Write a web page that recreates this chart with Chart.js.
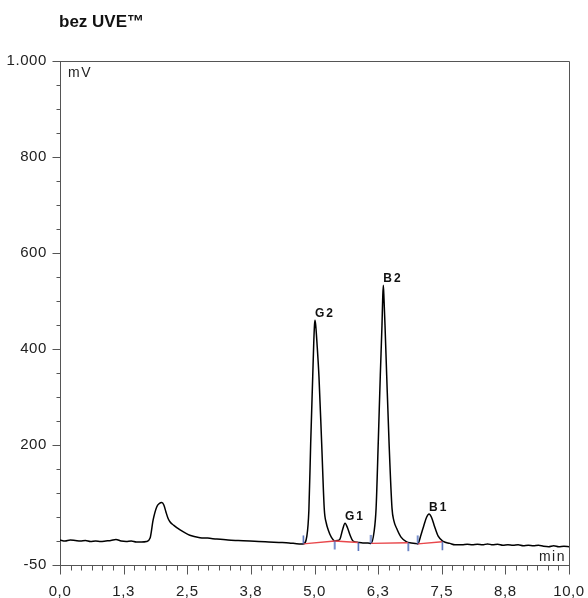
<!DOCTYPE html>
<html>
<head>
<meta charset="utf-8">
<script src="https://cdn.jsdelivr.net/npm/chart.js@4.4.1/dist/chart.umd.min.js"></script>
<style>
  html, body { margin: 0; padding: 0; background: #fff; }
  #chart { display: block; }
</style>
</head>
<body>
<canvas id="chart" width="588" height="598"></canvas>
<script>
(function () {
  'use strict';

  // ---- data ----
  var titleText = 'bez UVE\u2122';

  // detector trace: time (min) / signal (mV)
  var traceT = [0, 0.1, 0.2, 0.3, 0.4, 0.5, 0.6, 0.7, 0.8, 0.9, 1.0, 1.1, 1.2, 1.3, 1.4, 1.5, 1.6, 1.7,
    1.77, 1.83, 1.9, 1.95, 2.0, 2.04, 2.08, 2.12, 2.16, 2.23, 2.36, 2.55, 2.75, 2.9, 3.08, 3.3, 3.5, 3.73,
    3.9, 4.1, 4.3, 4.5, 4.7, 4.78,
    4.85, 4.89, 4.925, 4.965, 4.985, 5.0, 5.01, 5.025, 5.049, 5.088, 5.141, 5.193, 5.23, 5.27, 5.33, 5.4,
    5.45, 5.5, 5.55, 5.6, 5.65, 5.7, 5.756, 5.86, 5.95, 6.05, 6.11,
    6.17, 6.21, 6.253, 6.293, 6.326, 6.34, 6.352, 6.365, 6.385, 6.418, 6.464, 6.523, 6.56, 6.615, 6.7, 6.81,
    6.9, 6.98, 7.03,
    7.09, 7.15, 7.2, 7.25, 7.3, 7.35, 7.43, 7.53, 7.66, 7.76, 7.9, 8.0, 8.1, 8.2, 8.3, 8.4, 8.5, 8.6, 8.7,
    8.8, 8.9, 9.0, 9.1, 9.2, 9.3, 9.4, 9.5, 9.6, 9.7, 9.8, 9.9, 10.0];
  var traceV = [2, 0, 2, 1, 0, 1, -1, 0, -1, 0, 1, 3, 0, -1, 0, -2, -2, -1,
    6, 44, 71, 78, 80, 75, 61, 48, 40, 33, 23, 12, 7, 6, 4, 2, 1, 0,
    -1, -2, -3, -4, -6, -6,
    10, 65, 203, 342, 412, 450, 460, 448, 412, 342, 203, 65, 38, 23, 8, 0,
    1, 4, 23, 37, 27, 12, 0, -3, -4, -4, -5,
    19, 68, 207, 346, 450, 505, 533, 505, 450, 346, 207, 68, 42, 26, 8, -2,
    -4, -5, -6,
    12, 33, 49, 56, 49, 33, 10, -1, -5, -8, -8, -7, -8, -7, -8, -6, -8, -7, -9,
    -8, -9, -8, -10, -9, -10, -9, -11, -12, -10, -12, -11, -12];

  // integration baselines (red) and their start / end markers (blue)
  var blT = [4.78, 5.40, 5.86, 6.11, 6.84, 7.03, 7.51];
  var blV = [-6, 0, -3, -5, -3.5, -6, -1.5];
  var blGroup = [1, 1, 1, 2, 2, 3, 3];
  var blIsStart = [true, false, false, true, false, true, false];

  // peak names
  var peakNames = ['G2', 'G1', 'B2', 'B1'];
  var peakT = [5.01, 5.6, 6.352, 7.25];
  var peakV = [460, 37, 533, 56];

  // axes
  var xTickValues = [0, 1.25, 2.5, 3.75, 5, 6.25, 7.5, 8.75, 10];
  var xTickLabels = ['0,0', '1,3', '2,5', '3,8', '5,0', '6,3', '7,5', '8,8', '10,0'];
  var yTickValues = [-50, 200, 400, 600, 800, 1000];
  var yTickLabels = ['-50', '200', '400', '600', '800', '1.000'];
  var xMinorPerMajor = 6;
  var yMinorStep = 50;
  var xUnit = 'min';
  var yUnit = 'mV';

  var AXIS_COLOR = '#555';
  var TEXT_COLOR = '#222';
  var FONT_FAMILY = '"Liberation Sans", Arial, sans-serif';

  function zip(xs, ys) {
    return xs.map(function (x, i) { return { x: x, y: ys[i] }; });
  }

  // baseline line with gaps between groups
  var baselineData = [];
  blT.forEach(function (t, i) {
    if (i > 0 && blGroup[i] !== blGroup[i - 1]) baselineData.push({ x: t, y: null });
    baselineData.push({ x: t, y: blV[i] });
  });

  var startMarks = [], endMarks = [];
  blT.forEach(function (t, i) {
    (blIsStart[i] ? startMarks : endMarks).push({ x: t, y: blV[i] });
  });

  // small vertical marker images: one sits above the point, one below
  function markImage(up) {
    var c = document.createElement('canvas');
    c.width = 3; c.height = 19;
    var g = c.getContext('2d');
    g.strokeStyle = '#3f5fb5';
    g.lineWidth = 1.4;
    g.beginPath();
    g.moveTo(1.5, up ? 1 : 9.5);
    g.lineTo(1.5, up ? 9.5 : 18);
    g.stroke();
    return c;
  }

  // ---- frame, ticks and annotations ----
  var framePlugin = {
    id: 'frame',
    beforeDraw: function (chart) {
      var ctx = chart.ctx;
      ctx.save();
      ctx.letterSpacing = '0px';
      ctx.fillStyle = '#111';
      ctx.font = 'bold 17px ' + FONT_FAMILY;
      ctx.textAlign = 'left';
      ctx.textBaseline = 'alphabetic';
      ctx.fillText(titleText, 59, 27);
      ctx.restore();
      ctx.letterSpacing = '0.6px'; // slightly spaced tick labels
    },
    afterDraw: function (chart) {
      var ctx = chart.ctx;
      var a = chart.chartArea;
      var xs = chart.scales.x, ys = chart.scales.y;
      ctx.save();
      ctx.letterSpacing = '0px';

      // top and right border
      ctx.strokeStyle = AXIS_COLOR;
      ctx.lineWidth = 1;
      ctx.beginPath();
      ctx.moveTo(Math.round(a.left) + 0.5, Math.round(a.top) + 0.5);
      ctx.lineTo(Math.round(a.right) + 0.5, Math.round(a.top) + 0.5);
      ctx.lineTo(Math.round(a.right) + 0.5, Math.round(a.bottom) + 0.5);
      ctx.stroke();

      // x ticks (below the axis)
      var bottom = Math.round(a.bottom) + 0.5;
      ctx.beginPath();
      for (var i = 0; i < xTickValues.length; i++) {
        var px = Math.round(xs.getPixelForValue(xTickValues[i])) + 0.5;
        ctx.moveTo(px, bottom); ctx.lineTo(px, bottom + 9);
        if (i < xTickValues.length - 1) {
          var step = (xTickValues[i + 1] - xTickValues[i]) / xMinorPerMajor;
          for (var k = 1; k < xMinorPerMajor; k++) {
            var mx = Math.round(xs.getPixelForValue(xTickValues[i] + k * step)) + 0.5;
            ctx.moveTo(mx, bottom); ctx.lineTo(mx, bottom + 5);
          }
        }
      }
      // y ticks (left of the axis)
      var left = Math.round(a.left) + 0.5;
      for (var v = ys.min; v <= ys.max; v += yMinorStep) {
        var py = Math.round(ys.getPixelForValue(v)) + 0.5;
        var major = yTickValues.indexOf(v) >= 0;
        ctx.moveTo(left, py); ctx.lineTo(left - (major ? 8 : 4), py);
      }
      ctx.stroke();

      // unit labels
      ctx.fillStyle = TEXT_COLOR;
      ctx.font = '14px ' + FONT_FAMILY;
      ctx.letterSpacing = '1.5px';
      ctx.textBaseline = 'alphabetic';
      ctx.textAlign = 'left';
      ctx.fillText(yUnit, a.left + 8, a.top + 16);
      ctx.textAlign = 'right';
      ctx.fillText(xUnit, a.right - 3, a.bottom - 4);

      // peak names
      ctx.font = 'bold 12px ' + FONT_FAMILY;
      ctx.letterSpacing = '2px';
      ctx.textAlign = 'left';
      ctx.fillStyle = '#111';
      for (var p = 0; p < peakNames.length; p++) {
        ctx.fillText(peakNames[p], xs.getPixelForValue(peakT[p]), ys.getPixelForValue(peakV[p]) - 3);
      }
      ctx.restore();
    }
  };

  new Chart(document.getElementById('chart'), {
    type: 'line',
    data: {
      datasets: [
        {
          data: zip(traceT, traceV),
          borderColor: '#000',
          borderWidth: 1.5,
          pointRadius: 0,
          cubicInterpolationMode: 'monotone',
          order: 3
        },
        {
          data: baselineData,
          borderColor: '#e8474b',
          borderWidth: 1.4,
          pointRadius: 0,
          spanGaps: false,
          order: 2
        },
        {
          type: 'scatter',
          data: startMarks,
          pointStyle: markImage(true),
          order: 1
        },
        {
          type: 'scatter',
          data: endMarks,
          pointStyle: markImage(false),
          order: 1
        }
      ]
    },
    options: {
      responsive: false,
      animation: false,
      devicePixelRatio: 1,
      layout: { padding: { top: 61, right: 19, left: 0, bottom: 0 } },
      plugins: { legend: { display: false }, tooltip: { enabled: false }, title: { display: false } },
      scales: {
        x: {
          type: 'linear',
          min: 0,
          max: 10,
          afterBuildTicks: function (scale) {
            scale.ticks = xTickValues.map(function (v) { return { value: v }; });
          },
          afterFit: function (scale) {
            scale.height = 33;
            scale.paddingLeft = 0;
            scale.paddingRight = 0;
          },
          ticks: {
            autoSkip: false,
            maxRotation: 0,
            padding: 18,
            color: TEXT_COLOR,
            font: { family: FONT_FAMILY, size: 15 },
            callback: function (v, i) { return xTickLabels[i]; }
          },
          grid: { display: true, drawOnChartArea: false, drawTicks: false },
          border: { display: true, color: AXIS_COLOR, width: 1 }
        },
        y: {
          min: -50,
          max: 1000,
          afterBuildTicks: function (scale) {
            scale.ticks = yTickValues.map(function (v) { return { value: v }; });
          },
          afterFit: function (scale) {
            scale.width = 60;
            scale.paddingTop = 0;
            scale.paddingBottom = 0;
          },
          ticks: {
            autoSkip: false,
            padding: 13,
            color: TEXT_COLOR,
            font: { family: FONT_FAMILY, size: 15 },
            callback: function (v, i) { return yTickLabels[i]; }
          },
          grid: { display: true, drawOnChartArea: false, drawTicks: false },
          border: { display: true, color: AXIS_COLOR, width: 1 }
        }
      }
    },
    plugins: [framePlugin]
  });
})();
</script>
</body>
</html>
